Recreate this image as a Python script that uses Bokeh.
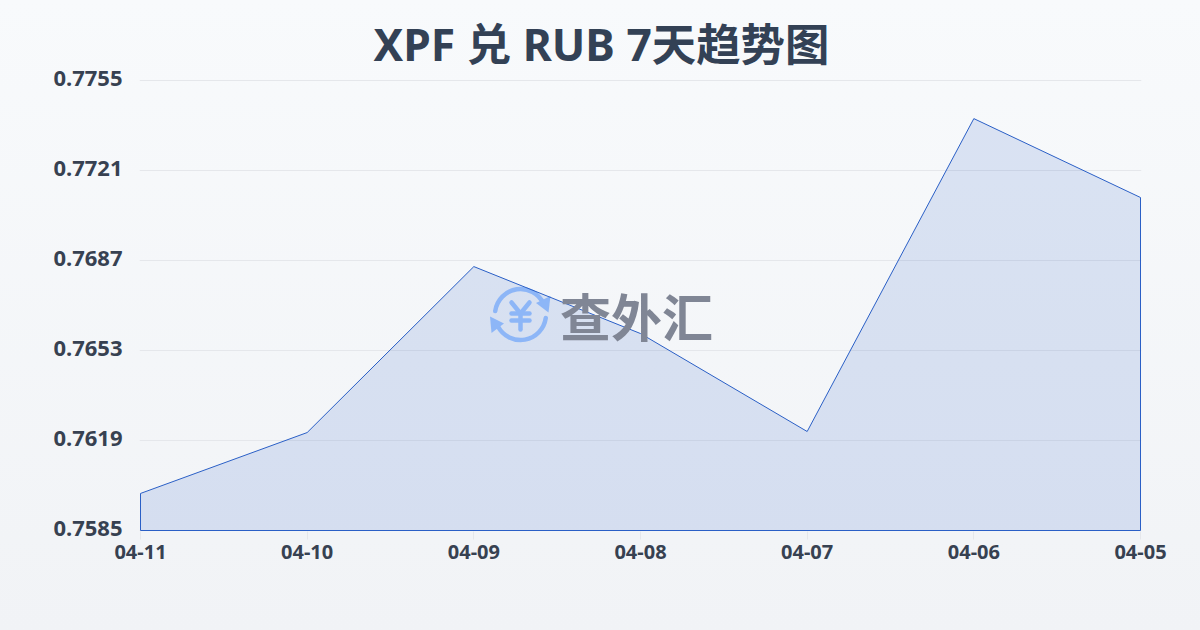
from bokeh.plotting import figure
from bokeh.models import Label, FixedTicker, Range1d, Title
from bokeh.embed import file_html
from bokeh.resources import INLINE
import numpy as np

title = "XPF 兑 RUB 7天趋势图"
dates = ["04-11", "04-10", "04-09", "04-08", "04-07", "04-06", "04-05"]
rates = [0.75990, 0.76220, 0.76847, 0.76594, 0.76224, 0.77406, 0.77108]
y_ticks = [0.7585, 0.7619, 0.7653, 0.7687, 0.7721, 0.7755]
watermark = "查外汇"

FONT = "Noto Sans"
CJK = "Noto Sans CJK SC"
INK = "#374151"
BLUE = "#8db6f7"
LINE = "#2a5fc6"

W, H = 1200, 630
L, R, T, B = 140, 1140, 80, 530
ux = (len(dates) - 1) / (R - L)
uy = (y_ticks[-1] - y_ticks[0]) / (B - T)
p = figure(width=W, height=H, output_backend="svg", toolbar_location=None,
           x_range=Range1d(-ux, len(dates) - 1 + ux),
           y_range=Range1d(y_ticks[0] - uy, y_ticks[-1] + 3 * uy),
           min_border_left=139, min_border_right=59, min_border_top=77, min_border_bottom=99)
p.styles = {"position": "absolute", "left": "0", "top": "0",
            "background": "linear-gradient(180deg,#f8fafc 0%,#f1f3f6 100%)"}
p.background_fill_color = None
p.border_fill_color = None
p.outline_line_color = None

xs = list(range(len(dates)))
label_ticks = [round(v + 2 * uy, 7) for v in y_ticks]  # labels sit 2px above their gridlines
p.xaxis.ticker = FixedTicker(ticks=xs)
p.xaxis.major_label_overrides = {i: d for i, d in enumerate(dates)}
p.yaxis.ticker = FixedTicker(ticks=label_ticks)
p.yaxis.major_label_overrides = {t: f"{v:.4f}" for t, v in zip(label_ticks, y_ticks)}
p.xaxis.axis_line_color = None
p.yaxis.axis_line_color = None
p.xaxis.major_tick_line_color = "#e5e7eb"
p.xaxis.major_tick_in = 0
p.xaxis.major_tick_out = 8
p.xaxis.minor_tick_line_color = None
p.yaxis.major_tick_line_color = None
p.yaxis.minor_tick_line_color = None
p.xaxis.major_label_text_font = FONT
p.yaxis.major_label_text_font = FONT
p.xaxis.major_label_text_font_style = "bold"
p.yaxis.major_label_text_font_style = "bold"
p.xaxis.major_label_text_font_size = "20px"
p.yaxis.major_label_text_font_size = "22px"
p.xaxis.major_label_text_color = INK
p.yaxis.major_label_text_color = INK
p.xaxis.major_label_standoff = 5
p.yaxis.major_label_standoff = 11
p.xgrid.grid_line_color = None
p.ygrid.grid_line_color = "#e5e7eb"
p.ygrid.ticker = FixedTicker(ticks=y_ticks)

px = lambda v: (v - L) / (R - L) * (len(dates) - 1)
py = lambda v: y_ticks[-1] - (v - T) / (B - T) * (y_ticks[-1] - y_ticks[0])

poly_x = [xs[0]] + xs + [xs[-1]]
poly_y = [y_ticks[0]] + rates + [y_ticks[0]]
p.patch(poly_x, poly_y, fill_color=LINE, fill_alpha=0.14, line_color=None)

# watermark logo
cx, cy, r = px(520), py(314), 25.5
p.arc(x=[cx], y=[cy], radius=r, radius_units="screen", start_angle=np.radians(25), end_angle=np.radians(172),
      line_color=BLUE, line_width=4.5, line_cap="round")
p.arc(x=[cx], y=[cy], radius=r, radius_units="screen", start_angle=np.radians(208), end_angle=np.radians(352),
      line_color=BLUE, line_width=4.5, line_cap="round")
for tri in ([(535.5, 302.5), (550, 295.5), (548, 312)], [(489.5, 316), (503.5, 323), (491, 332.5)]):
    p.patch([px(a) for a, _ in tri], [py(b) for _, b in tri], fill_color=BLUE, line_color=None)
for (a0, b0, a1, b1) in [(511, 302, 520, 313), (529, 302, 520, 313), (520, 313, 520, 329),
                         (511, 313, 529, 313), (511, 320, 529, 320)]:
    p.segment(px(a0), py(b0), px(a1), py(b1), line_color=BLUE, line_width=4.5, line_cap="round")
p.add_layout(Label(x=px(636), y=py(314), text=watermark, text_font=CJK, text_font_style="bold",
                   text_font_size="51px", text_color="#808695", text_align="center", text_baseline="middle"))

p.patch(poly_x, poly_y, fill_color=None, line_color=LINE, line_width=1)

p.add_layout(Title(text=title, text_font="'Noto Sans', 'Noto Sans CJK SC'", text_font_style="bold",
                   text_font_size="44.4px", text_color="#334155", align="left", offset=234, standoff=8), "above")

open("out.html", "w").write(file_html(p, INLINE))
